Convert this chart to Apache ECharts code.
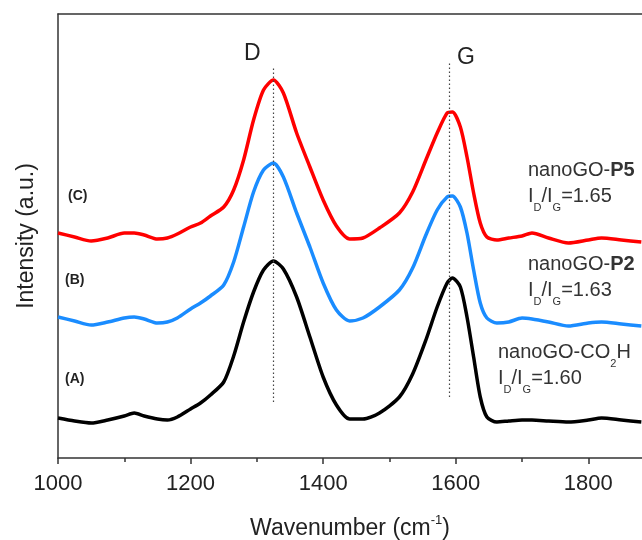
<!DOCTYPE html>
<html>
<head>
<meta charset="utf-8">
<script src="https://cdn.jsdelivr.net/npm/echarts@6/dist/echarts.min.js"></script>
<style>
  html, body { margin: 0; padding: 0; background: #fff; }
  #chart { width: 642px; height: 540px; }
</style>
</head>
<body>
<div id="chart"></div>
<script>
// Raman shift (cm-1) sampled for all three spectra
const wavenumber = [1000, 1025, 1050, 1075, 1100, 1115, 1130, 1150, 1165, 1180, 1200, 1215, 1230, 1250, 1265, 1280, 1295, 1310, 1325, 1340, 1360, 1380, 1400, 1420, 1440, 1460, 1485, 1515, 1535, 1555, 1572, 1587, 1595, 1607, 1617, 1627, 1637, 1647, 1662, 1680, 1700, 1715, 1740, 1770, 1800, 1820, 1850, 1880];

// (A) nanoGO-CO2H
const intensityA = [40, 37, 35, 38, 42, 45, 42, 39, 38, 41, 49, 55, 63, 76, 102, 136, 166, 188, 197, 189, 161, 121, 81, 53, 39, 39, 45, 61, 84, 118, 151, 175, 180, 171, 141, 101, 61, 41, 36, 37, 38, 38, 37, 36, 38, 40, 38, 36];
// (B) nanoGO-P2
const intensityB = [141, 137, 133, 136, 140, 141, 139, 135, 136, 140, 149, 155, 162, 173, 196, 231, 266, 288, 295, 281, 245, 211, 175, 148, 137, 140, 151, 168, 190, 223, 248, 261, 262, 251, 225, 188, 155, 140, 135, 136, 140, 139, 136, 132, 135, 136, 134, 132];
// (C) nanoGO-P5
const intensityC = [225, 221, 217, 220, 225, 225, 223, 219, 220, 224, 231, 235, 242, 251, 268, 298, 338, 368, 378, 365, 325, 291, 258, 232, 219, 220, 230, 245, 266, 298, 325, 345, 346, 331, 301, 265, 235, 221, 218, 220, 222, 225, 220, 215, 218, 220, 218, 216];

// D and G band positions and the vertical extent of their guide lines
const bandD = 1324;
const bandG = 1590;
const bandDSpan = [56, 390];
const bandGSpan = [61, 395];

// axis ticks
const majorTicks = [1000, 1200, 1400, 1600, 1800];
const minorTicks = [1100, 1300, 1500, 1700];

const FONT = "'Liberation Sans', Arial, sans-serif";

const pairs = (ys) => wavenumber.map((w, i) => [w, ys[i]]);

const chart = echarts.init(document.getElementById('chart'), null, { renderer: 'canvas' });

// main glyphs are lifted by their bottom padding so the small tokens sit as subscripts
const subRich = {
  n: { fontSize: 20, fontFamily: FONT, color: '#333', padding: [0, 0, 24, 0] },
  b: { fontSize: 20, fontFamily: FONT, color: '#333', fontWeight: 'bold', padding: [0, 0, 24, 0] },
  s: { fontSize: 11, fontFamily: FONT, color: '#333' }
};

function sampleText(left, top, nameText, ratioText) {
  return [
    {
      type: 'text', left: left, top: top,
      style: { text: nameText, rich: subRich, fontSize: 20, fontFamily: FONT, fill: '#333' }
    },
    {
      type: 'text', left: left, top: top + 26,
      style: { text: ratioText, rich: subRich, fontSize: 20, fontFamily: FONT, fill: '#333' }
    }
  ];
}

const tickLabel = (v) => String(v);

const option = {
  backgroundColor: '#fff',
  animation: false,
  grid: { left: 58, right: 0, top: 14, bottom: 82, containLabel: false, outerBoundsMode: 'none' },
  xAxis: [
    {
      type: 'value', min: 1000, max: 1881, position: 'bottom',
      name: 'Wavenumber (cm{sup|-1})',
      nameLocation: 'middle', nameGap: 56,
      nameTextStyle: {
        fontSize: 23, fontFamily: FONT, color: '#222',
        rich: { sup: { fontSize: 13, fontFamily: FONT, color: '#222', padding: [0, 0, 16, 0] } }
      },
      axisLine: { show: true, lineStyle: { color: '#333', width: 1.5 } },
      axisTick: { show: true, inside: false, length: 6, customValues: majorTicks, lineStyle: { color: '#333', width: 1.5 } },
      axisLabel: { show: true, customValues: majorTicks, formatter: tickLabel, margin: 15, fontSize: 22, fontFamily: FONT, color: '#222' },
      splitLine: { show: false }
    },
    {
      type: 'value', min: 1000, max: 1881, position: 'bottom',
      axisLine: { show: false },
      axisTick: { show: true, inside: false, length: 4, customValues: minorTicks, lineStyle: { color: '#333', width: 1.5 } },
      axisLabel: { show: false },
      splitLine: { show: false }
    },
    {
      type: 'value', min: 1000, max: 1881, position: 'top',
      axisLine: { show: true, lineStyle: { color: '#333', width: 1.5 } },
      axisTick: { show: false },
      axisLabel: { show: false },
      splitLine: { show: false }
    }
  ],
  yAxis: {
    type: 'value', min: 0, max: 444,
    name: 'Intensity (a.u.)',
    nameLocation: 'middle', nameGap: 20,
    nameTextStyle: { fontSize: 23, fontFamily: FONT, color: '#222' },
    axisLine: { show: true, lineStyle: { color: '#333', width: 1.5 } },
    axisTick: { show: false },
    axisLabel: { show: false },
    splitLine: { show: false }
  },
  series: [
    {
      name: 'nanoGO-CO2H', type: 'line', data: pairs(intensityA),
      showSymbol: false, smooth: 0.25,
      lineStyle: { color: '#000', width: 3.5 },
      markLine: {
        silent: true, symbol: ['none', 'none'],
        label: { show: false },
        lineStyle: { color: '#444', width: 1.2, type: [1.5, 2.5] },
        data: [
          [{ coord: [bandD, bandDSpan[0]] }, { coord: [bandD, bandDSpan[1]] }],
          [{ coord: [bandG, bandGSpan[0]] }, { coord: [bandG, bandGSpan[1]] }]
        ]
      }
    },
    {
      name: 'nanoGO-P2', type: 'line', data: pairs(intensityB),
      showSymbol: false, smooth: 0.25,
      lineStyle: { color: '#1a8cff', width: 3.5 }
    },
    {
      name: 'nanoGO-P5', type: 'line', data: pairs(intensityC),
      showSymbol: false, smooth: 0.25,
      lineStyle: { color: '#ff0000', width: 3.5 }
    }
  ],
  graphic: [
    { type: 'text', left: 244, top: 42, style: { text: 'D', fontSize: 23, fontFamily: FONT, fill: '#222' } },
    { type: 'text', left: 457, top: 46, style: { text: 'G', fontSize: 23, fontFamily: FONT, fill: '#222' } },
    { type: 'text', left: 68, top: 189, style: { text: '(C)', fontSize: 14, fontWeight: 'bold', fontFamily: FONT, fill: '#222' } },
    { type: 'text', left: 65, top: 273, style: { text: '(B)', fontSize: 14, fontWeight: 'bold', fontFamily: FONT, fill: '#222' } },
    { type: 'text', left: 65, top: 372, style: { text: '(A)', fontSize: 14, fontWeight: 'bold', fontFamily: FONT, fill: '#222' } },
    ...sampleText(528, 160, '{n|nanoGO-}{b|P5}', '{n|I}{s|D}{n|/I}{s|G}{n|=1.65}'),
    ...sampleText(528, 254, '{n|nanoGO-}{b|P2}', '{n|I}{s|D}{n|/I}{s|G}{n|=1.63}'),
    ...sampleText(498, 342, '{n|nanoGO-CO}{s|2}{n|H}', '{n|I}{s|D}{n|/I}{s|G}{n|=1.60}')
  ]
};

chart.setOption(option);
</script>
</body>
</html>
